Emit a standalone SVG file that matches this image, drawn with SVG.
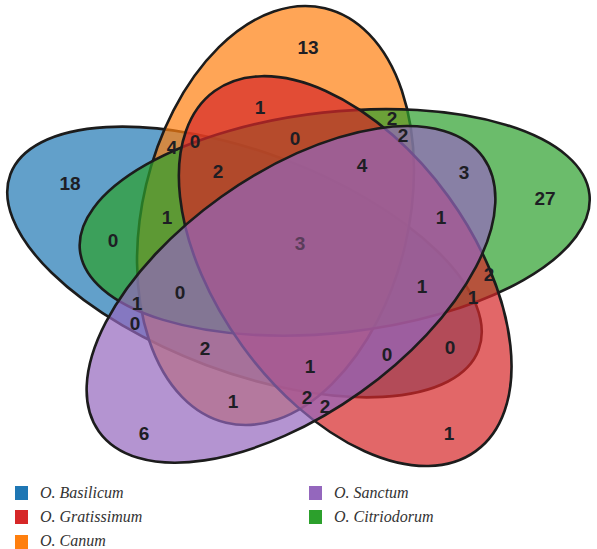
<svg xmlns="http://www.w3.org/2000/svg" width="597" height="549" viewBox="0 0 597 549">
<style>
.set{fill-opacity:0.7;stroke:#1c1c1c;stroke-width:2.6}
.n{font-family:"Liberation Sans",Arial,sans-serif;font-weight:bold;font-size:19px;fill:#1e1e24;text-anchor:middle;dominant-baseline:central}
.c{fill:#5a3c5a}
.lg{font-family:"Liberation Serif","Times New Roman",serif;font-style:italic;font-size:16px;fill:#333}
</style>
<rect width="597" height="549" fill="#fff"/>
<g id="sets">
<g id="basilicum"><ellipse class="set" fill="#1f77b4" cx="244.5" cy="262" rx="250" ry="110" transform="rotate(20.55 244.5 262)"/></g>
<g id="canum"><ellipse class="set" fill="#ff7f0e" cx="275.5" cy="215.5" rx="213" ry="133" transform="rotate(-76.6 275.5 215.5)"/></g>
<g id="citriodorum"><ellipse class="set" fill="#2ca02c" cx="334.7" cy="222.4" rx="256.3" ry="110.4" transform="rotate(-6.3 334.7 222.4)"/></g>
<g id="gratissimum"><ellipse class="set" fill="#d62728" cx="345.2" cy="271.1" rx="222.4" ry="127.3" transform="rotate(54.05 345.2 271.1)"/></g>
<g id="sanctum"><ellipse class="set" fill="#9467bd" cx="291" cy="294.4" rx="236" ry="120" transform="rotate(-35.5 291 294.4)"/></g>
</g>
<g id="counts">
<text class="n" x="308" y="47">13</text>
<text class="n" x="260" y="107">1</text>
<text class="n" x="392" y="118">2</text>
<text class="n" x="403" y="135">2</text>
<text class="n" x="172" y="147">4</text>
<text class="n" x="195" y="141">0</text>
<text class="n" x="295" y="138">0</text>
<text class="n" x="218" y="171">2</text>
<text class="n" x="362" y="165">4</text>
<text class="n" x="464" y="172">3</text>
<text class="n" x="70" y="183">18</text>
<text class="n" x="545" y="198">27</text>
<text class="n" x="167" y="217">1</text>
<text class="n" x="441" y="217">1</text>
<text class="n" x="113" y="240">0</text>
<text class="n c" x="300" y="243">3</text>
<text class="n" x="489" y="274">2</text>
<text class="n" x="422" y="286">1</text>
<text class="n" x="473" y="297">1</text>
<text class="n" x="180" y="292">0</text>
<text class="n" x="137" y="303">1</text>
<text class="n" x="135" y="323">0</text>
<text class="n" x="205" y="348">2</text>
<text class="n" x="450" y="347">0</text>
<text class="n" x="387" y="354">0</text>
<text class="n" x="310" y="366">1</text>
<text class="n" x="307" y="397">2</text>
<text class="n" x="325" y="406">2</text>
<text class="n" x="233" y="401">1</text>
<text class="n" x="144" y="433">6</text>
<text class="n" x="449" y="433">1</text>
</g>
<g id="legend">
<rect x="15" y="486" width="13" height="14" fill="#1f77b4"/>
<text class="lg" x="40" y="498">O. Basilicum</text>
<rect x="15" y="510" width="13" height="14" fill="#d62728"/>
<text class="lg" x="40" y="522">O. Gratissimum</text>
<rect x="15" y="535" width="13" height="14" fill="#ff7f0e"/>
<text class="lg" x="40" y="546">O. Canum</text>
<rect x="309" y="486" width="13" height="14" fill="#9467bd"/>
<text class="lg" x="334" y="498">O. Sanctum</text>
<rect x="309" y="510" width="13" height="14" fill="#2ca02c"/>
<text class="lg" x="334" y="522">O. Citriodorum</text>
</g>
</svg>
